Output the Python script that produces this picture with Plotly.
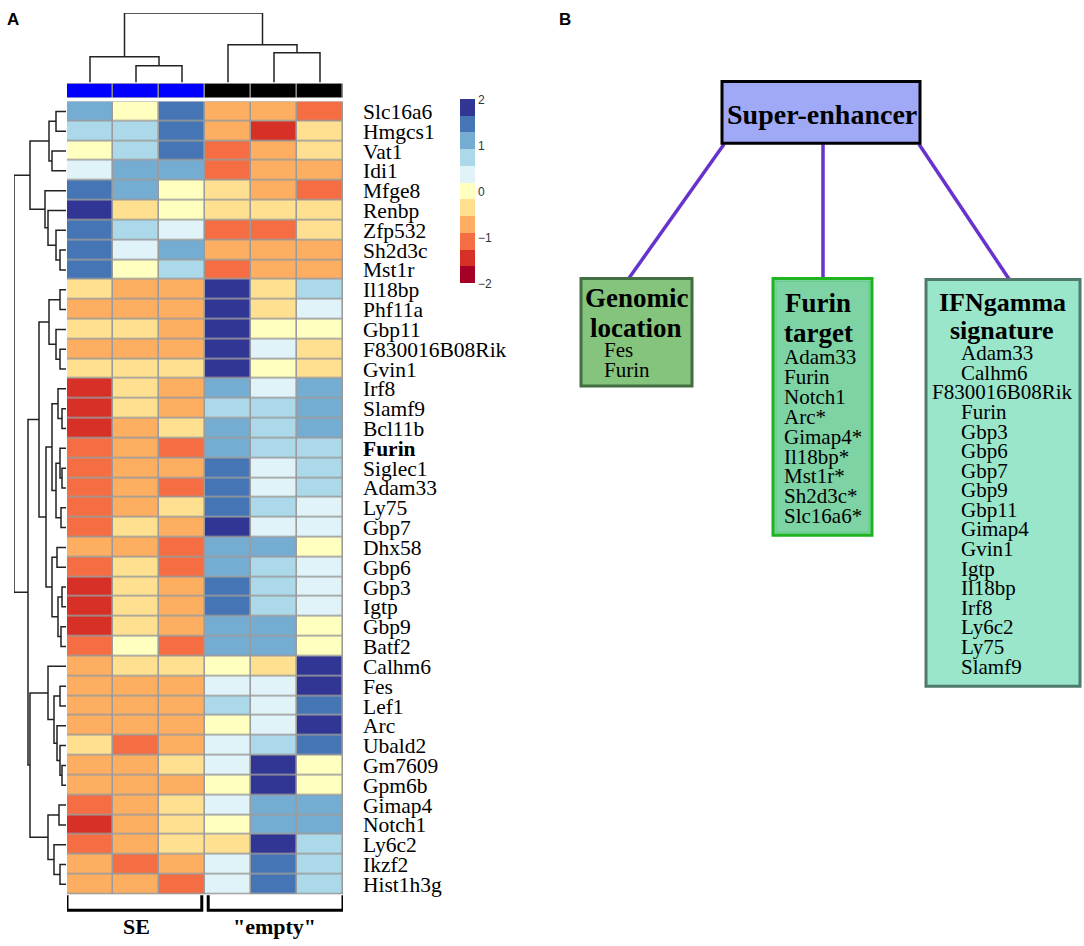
import plotly.graph_objects as go

W, H = 1084, 946


def fx(px):
    return px / W


def fy(py):
    return 1 - py / H


# ---------------- data ----------------
genes = ["Slc16a6", "Hmgcs1", "Vat1", "Idi1", "Mfge8", "Renbp", "Zfp532", "Sh2d3c", "Mst1r",
         "Il18bp", "Phf11a", "Gbp11", "F830016B08Rik", "Gvin1", "Irf8", "Slamf9", "Bcl11b",
         "Furin", "Siglec1", "Adam33", "Ly75", "Gbp7", "Dhx58", "Gbp6", "Gbp3", "Igtp", "Gbp9",
         "Batf2", "Calhm6", "Fes", "Lef1", "Arc", "Ubald2", "Gm7609", "Gpm6b", "Gimap4",
         "Notch1", "Ly6c2", "Ikzf2", "Hist1h3g"]

se_1 = [1.1, 0.75, 0, 0.35, 1.45, 1.8, 1.45, 1.45, 1.45,
        -0.35, -0.75, -0.35, -0.75, -0.35, -1.45, -1.45, -1.45,
        -1.1, -1.1, -1.1, -1.1, -1.1, -0.75, -1.1, -1.45, -1.45, -1.45,
        -1.1, -0.75, -0.75, -0.75, -0.75, -0.35, -0.75, -0.75, -1.1,
        -1.45, -1.1, -0.75, -0.75]
se_2 = [0, 0.75, 0.75, 1.1, 1.1, -0.35, 0.75, 0.35, 0,
        -0.75, -0.75, -0.35, -0.75, -0.35, -0.35, -0.35, -0.75,
        -0.75, -0.75, -0.75, -0.75, -0.35, -0.75, -0.35, -0.35, -0.35, -0.35,
        0, -0.35, -0.75, -0.75, -0.75, -1.1, -0.75, -0.75, -0.75,
        -0.75, -0.75, -1.1, -0.75]
se_3 = [1.45, 1.45, 1.45, 1.1, 0, 0, 0.35, 1.1, 0.75,
        -0.75, -0.75, -0.75, -0.75, -0.35, -0.75, -0.75, -0.35,
        -1.1, -0.75, -1.1, -0.35, -0.75, -1.1, -1.1, -0.75, -0.75, -0.75,
        -1.1, -0.35, -0.75, -0.75, -0.75, -0.75, -0.35, -0.75, -0.35,
        -0.35, -0.35, -0.75, -1.1]
empty_1 = [-0.75, -0.75, -1.1, -1.1, -0.35, -0.35, -1.1, -0.75, -1.1,
           1.8, 1.8, 1.8, 1.8, 1.8, 1.1, 0.75, 1.1,
           1.1, 1.45, 1.45, 1.45, 1.8, 1.1, 1.1, 1.45, 1.45, 1.1,
           1.1, 0, 0.35, 0.75, 0, 0.35, 0.35, 0, 0.35,
           0, -0.35, 0.35, 0.35]
empty_2 = [-0.75, -1.45, -0.75, -0.75, -0.75, -0.35, -1.1, -0.75, -0.75,
           -0.35, -0.35, 0, 0.35, 0, 0.35, 0.75, 0.75,
           0.75, 0.35, 0.35, 0.75, 0.35, 1.1, 0.75, 0.75, 0.75, 1.1,
           1.1, -0.35, 0.35, 0.35, 0.35, 0.75, 1.8, 1.8, 1.1,
           1.1, 1.8, 1.45, 1.45]
empty_3 = [-1.1, -0.35, -0.35, -0.75, -1.1, -0.35, -0.35, -0.75, -0.75,
           0.75, 0.35, 0, -0.35, -0.35, 1.1, 1.1, 1.1,
           0.75, 0.75, 0.75, 0.35, 0.35, 0, 0.35, 0.35, 0.35, 0,
           0, 1.8, 1.8, 1.45, 1.8, 1.45, 0, 0, 1.1,
           1.1, 0.75, 0.75, 0.75]

samples = ["SE", "SE", "SE", "empty", "empty", "empty"]
group_labels = ["SE", '"empty"']
colorbar_ticks = [-2, -1, 0, 1, 2]

heat_colors = ["#a50026", "#d73027", "#f46d43", "#fdae61", "#fee090", "#ffffbf",
               "#e0f3f8", "#abd9e9", "#74add1", "#4575b4", "#313695"]

# dendrogram trees: leaf = index, node = [height, left, right]
row_tree = [52,
            [36,
             [17, [10, 0, 1], [14, 2, 3]],
             [21, 4, [18, 5, [10, 6, [6, 7, 8]]]]],
            [38,
             [27,
              [17, [6, 9, 10], [10, 11, [6, 12, 13]]],
              [20,
               [14, [8, 14, [4, 15, 16]], [10, [6, 17, [4, 18, 19]], [5, 20, 21]]],
               [14, [9, 22, 23], [8, [4, 24, 25], [5, 26, 27]]]]],
             [36,
              [18, 28, [12, [6, 29, 30], [9, 31, [6, 32, [4, 33, 34]]]]],
              [18, [7, 35, 36], [12, 37, [6, 38, 39]]]]]]
col_tree = [70, [26, 0, [17, 1, 2]], [38, 3, [30, 4, 5]]]

genomic_location = ["Fes", "Furin"]
furin_target = ["Adam33", "Furin", "Notch1", "Arc*", "Gimap4*", "Il18bp*", "Mst1r*",
                "Sh2d3c*", "Slc16a6*"]
ifngamma_signature = ["Adam33", "Calhm6", "F830016B08Rik", "Furin", "Gbp3", "Gbp6", "Gbp7",
                      "Gbp9", "Gbp11", "Gimap4", "Gvin1", "Igtp", "Il18bp", "Irf8", "Ly6c2",
                      "Ly75", "Slamf9"]


# ---------------- helpers ----------------
def dendro(node, pos_list, h_list):
    if isinstance(node, int):
        return float(node), 0.0
    h, a, b = node
    pa, ha = dendro(a, pos_list, h_list)
    pb, hb = dendro(b, pos_list, h_list)
    pos_list += [pa, pa, pb, pb, None]
    h_list += [ha, h, h, hb, None]
    return (pa + pb) / 2, h


SERIF = "Liberation Serif, Times New Roman, serif"
SANS = "Liberation Sans, Arial, sans-serif"

n = len(heat_colors)
cs = []
for i, c in enumerate(heat_colors):
    cs += [[i / n, c], [(i + 1) / n, c]]

z = [list(r) for r in zip(se_1, se_2, se_3, empty_1, empty_2, empty_3)]
ncol = len(samples)
nrow = len(genes)

fig = go.Figure()

fig.add_trace(go.Heatmap(
    z=z, x=list(range(ncol)), y=list(range(nrow)), colorscale=cs, zmin=-2, zmax=2,
    xgap=1.6, ygap=1.6, hoverinfo="skip", xaxis="x", yaxis="y",
    colorbar=dict(x=fx(460), xanchor="left", y=fy(190.5), yanchor="middle",
                  len=185 / H, lenmode="fraction", thickness=15, thicknessmode="pixels",
                  outlinewidth=0, tickvals=colorbar_ticks, ticks="", xpad=0, ypad=0,
                  tickfont=dict(family=SANS, size=12, color="#333"))))

# annotation bar
grp_idx = [0 if s == "SE" else 1 for s in samples]
fig.add_trace(go.Heatmap(
    z=[grp_idx], x=list(range(ncol)), y=[0], zmin=0, zmax=1,
    colorscale=[[0, "#0000ff"], [0.5, "#0000ff"], [0.5, "#000000"], [1, "#000000"]],
    showscale=False, xgap=1.6, ygap=0, hoverinfo="skip", xaxis="x", yaxis="y4"))

# row dendrogram
rp, rh = [], []
dendro(row_tree, rp, rh)
fig.add_trace(go.Scatter(x=rh, y=rp, mode="lines", line=dict(color="#222", width=1.5),
                         hoverinfo="skip", showlegend=False, xaxis="x2", yaxis="y2"))
# column dendrogram
cp, ch = [], []
dendro(col_tree, cp, ch)
fig.add_trace(go.Scatter(x=cp, y=ch, mode="lines", line=dict(color="#222", width=1.5),
                         hoverinfo="skip", showlegend=False, xaxis="x", yaxis="y3"))

ticktext = ["<b>%s</b>" % g if g == "Furin" else g for g in genes]

hm_x = [fx(67), fx(343)]
hm_y = [fy(897), fy(100)]
noax = dict(showgrid=False, zeroline=False, showticklabels=False, ticks="", fixedrange=True)

fig.update_layout(
    width=W, height=H, margin=dict(l=0, r=0, t=0, b=0),
    paper_bgcolor="white", plot_bgcolor="white", showlegend=False,
    xaxis=dict(domain=hm_x, range=[-0.5, ncol - 0.5], anchor="y", **noax),
    yaxis=dict(domain=hm_y, range=[nrow - 0.5, -0.5], anchor="x", side="right",
               showgrid=False, zeroline=False, ticks="", fixedrange=True,
               tickvals=list(range(nrow)), ticktext=ticktext, ticklabelstandoff=19,
               tickfont=dict(family=SERIF, size=21.5, color="black")),
    xaxis2=dict(domain=[fx(14), fx(66)], range=[52, 0], anchor="y2", **noax),
    yaxis2=dict(domain=hm_y, range=[nrow - 0.5, -0.5], anchor="x2", **noax),
    yaxis3=dict(domain=[fy(81), fy(11)], range=[0, 70], anchor="x", **noax),
    yaxis4=dict(domain=[fy(96), fy(82)], range=[-0.5, 0.5], anchor="x", **noax),
)

shapes = []
# gray cell borders behind heatmap & bar
shapes.append(dict(type="rect", xref="x", yref="y", x0=-0.5, x1=ncol - 0.5, y0=-0.5,
                   y1=nrow - 0.5, fillcolor="#9b9b9b", line=dict(color="#9b9b9b", width=1.6),
                   layer="below"))
shapes.append(dict(type="rect", xref="x", yref="y4", x0=-0.5, x1=ncol - 0.5, y0=-0.5,
                   y1=0.5, fillcolor="#8a8a8a", line=dict(color="#8a8a8a", width=2.5),
                   layer="below"))
# group brackets
for g0, g1 in [(-0.5, 2.43), (2.57, 5.5)]:
    shapes.append(dict(type="path", xref="x", yref="paper",
                       path="M %f,%f L %f,%f L %f,%f L %f,%f" % (
                           g0, fy(898), g0, fy(913), g1, fy(913), g1, fy(898)),
                       line=dict(color="black", width=3)))

annotations = []
for xi, lab in zip([1, 4], group_labels):
    annotations.append(dict(x=xi, y=fy(929), xref="x", yref="paper", text="<b>%s</b>" % lab,
                            showarrow=False, font=dict(family=SERIF, size=22, color="black"),
                            xanchor="center", yanchor="middle"))
annotations.append(dict(x=fx(5), y=fy(18), xref="paper", yref="paper", text="<b>A</b>",
                        showarrow=False, font=dict(family=SANS, size=17, color="black"),
                        xanchor="left", yanchor="middle"))
annotations.append(dict(x=fx(557), y=fy(18), xref="paper", yref="paper", text="<b>B</b>",
                        showarrow=False, font=dict(family=SANS, size=17, color="black"),
                        xanchor="left", yanchor="middle"))

# ---------------- panel B ----------------
purple = "#6633cc"
for (x0, y0, x1, y1) in [(724, 143, 628, 279), (823, 143, 823, 279), (919, 143, 1010, 280)]:
    shapes.append(dict(type="line", xref="paper", yref="paper", x0=fx(x0), y0=fy(y0),
                       x1=fx(x1), y1=fy(y1), line=dict(color=purple, width=3.5)))


def box(x0, y0, x1, y1, fill, edge, w=3):
    shapes.append(dict(type="rect", xref="paper", yref="paper", x0=fx(x0), x1=fx(x1),
                       y0=fy(y1), y1=fy(y0), fillcolor=fill, line=dict(color=edge, width=w)))


def txt(x, y, s, size, bold=False, anchor="center"):
    annotations.append(dict(x=fx(x), y=fy(y), xref="paper", yref="paper",
                            text="<b>%s</b>" % s if bold else s, showarrow=False,
                            font=dict(family=SERIF, size=size, color="black"),
                            xanchor=anchor, yanchor="middle"))


box(722, 80, 920, 142, "#a0a9f6", "black")
txt(822, 113, "Super-enhancer", 28, bold=True)

box(581, 278, 692, 386, "#85c47c", "#426f42")
txt(636, 298, "Genomic", 27, bold=True)
txt(636, 328, "location", 27, bold=True)
for i, g in enumerate(genomic_location):
    txt(602, 350 + 20 * i, g, 21, anchor="left")

box(773, 278, 872, 536, "#7ed3a5", "#1fb31f")
shapes.append(dict(type="rect", xref="paper", yref="paper", x0=fx(776), x1=fx(869),
                   y0=fy(533), y1=fy(281), line=dict(color="#5fcf80", width=1)))
txt(818, 303, "Furin", 27, bold=True)
txt(818, 333, "target", 27, bold=True)
for i, g in enumerate(furin_target):
    txt(782, 357 + 20 * i, g, 21, anchor="left")

box(926, 279, 1080, 688, "#99e6cb", "#4e7b6b")
txt(1002, 302, "IFNgamma", 26, bold=True)
txt(1002, 330, "signature", 26, bold=True)
for i, g in enumerate(ifngamma_signature):
    if len(g) > 10:
        txt(1002, 353 + 19.7 * i, g, 21)
    else:
        txt(959, 353 + 19.7 * i, g, 21, anchor="left")

fig.update_layout(shapes=shapes, annotations=annotations)
fig.write_html("out.html", config={"displayModeBar": False},
               post_script="document.body.style.margin='0';document.body.style.padding='0';")
